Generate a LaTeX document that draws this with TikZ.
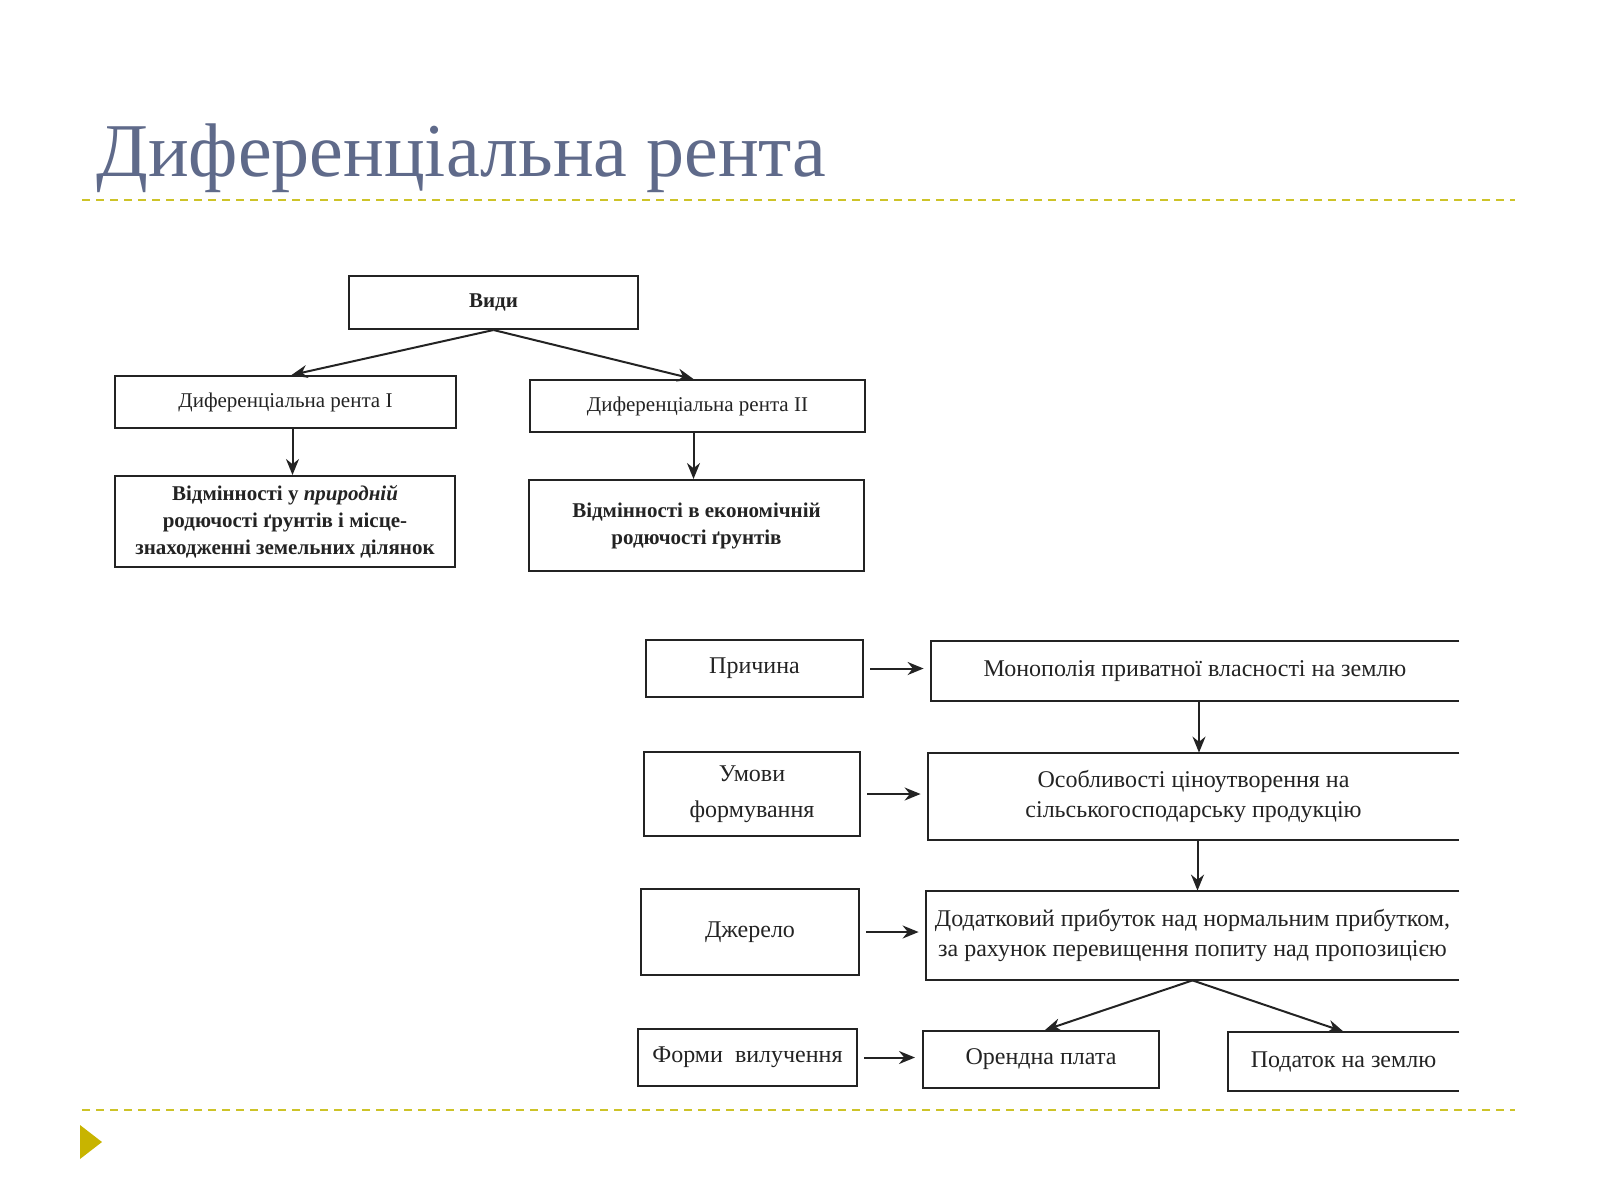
\documentclass[tikz,border=0pt]{standalone}
\usepackage{fontspec}
\setmainfont{Liberation Serif}
\usetikzlibrary{arrows.meta}
\definecolor{titlecol}{RGB}{95,106,138}
\definecolor{dashcol}{RGB}{205,195,40}
\definecolor{tricol}{RGB}{200,180,0}
\definecolor{ink}{RGB}{35,35,35}
\tikzset{
  box/.style={draw=ink, line width=1pt, inner sep=1pt, align=center, text=ink, font=\fontsize{10.5}{14}\selectfont},
  obox/.style={inner sep=1pt, align=center, text=ink, font=\fontsize{12}{16}\selectfont},
  lbox/.style={draw=ink, line width=1pt, inner sep=1pt, align=center, text=ink, font=\fontsize{12}{16}\selectfont},
  oline/.style={draw=ink, line width=1pt},
  arr/.style={draw=ink, -{Stealth[length=8pt,width=6.5pt]}, line width=1pt},
  sep/.style={dashcol, line width=1pt, dash pattern=on 4pt off 3pt}
}
\begin{document}
\begin{tikzpicture}[x=0.5pt,y=-0.5pt]
\useasboundingbox (0,0) rectangle (1600,1200);
% title
\node[anchor=base west, inner sep=0, text=titlecol, font=\fontsize{38}{46}\selectfont] (title) at (96,176) {Диференціальна рента};
\coordinate (s1a) at (82,200); \coordinate (s1b) at (1515,200);
\draw[sep] (s1a) -- (s1b);
\coordinate (s2a) at (82,1110); \coordinate (s2b) at (1515,1110);
\draw[sep] (s2a) -- (s2b);
\fill[tricol] (80,1125) -- (102,1142) -- (80,1159) -- cycle;

% top diagram
\node[box, minimum width=144.5pt, minimum height=26.5pt, font=\fontsize{10.5}{14}\bfseries] (vidy) at (493.5,302.5) {Види};
\node[box, minimum width=170.5pt, minimum height=26pt] (dr1) at (285.5,402) {Диференціальна рента I};
\node[box, minimum width=167.5pt, minimum height=26pt] (dr2) at (697.5,406) {Диференціальна рента II};
\node[box, minimum width=170pt, minimum height=45.5pt, font=\fontsize{10.5}{13.5}\selectfont\bfseries] (vid1) at (285,521.5) {Відмінності у \textit{природній}\\родючості ґрунтів і місце-\\знаходженні земельних ділянок};
\node[box, minimum width=167.5pt, minimum height=45.5pt, font=\fontsize{10.5}{13.5}\selectfont\bfseries] (vid2) at (696.5,525.5) {Відмінності в економічній\\родючості ґрунтів};
\draw[arr] (vidy.south) -- ([xshift=3pt]dr1.north);
\draw[arr] (vidy.south) -- ([xshift=-2pt]dr2.north);
\draw[arr] ([xshift=3.5pt]dr1.south) -- ([xshift=3.5pt]dr1.south |- vid1.north);
\draw[arr] ([xshift=-2pt]dr2.south) -- ([xshift=-2pt]dr2.south |- vid2.north);

% bottom diagram: left column
\node[lbox, minimum width=108.5pt, minimum height=28.5pt] (pr) at (754.5,668.5) {Причина};
\node[lbox, minimum width=108pt, minimum height=42pt, font=\fontsize{12}{18}\selectfont] (um) at (752,794) {Умови\\формування};
\node[lbox, minimum width=109pt, minimum height=43pt] (dj) at (750,932) {Джерело};
\node[lbox, minimum width=109.5pt, minimum height=28.5pt] (fv) at (747.5,1057.5) {Форми\ \ вилучення};

% right column (open on the right)
\node[obox, minimum width=264pt, minimum height=30pt] (mon) at (1195,671) {Монополія приватної власності на землю};
\node[obox, minimum width=265.5pt, minimum height=43.5pt, font=\fontsize{12}{15}\selectfont] (os) at (1193.5,796.5) {Особливості ціноутворення на\\сільськогосподарську продукцію};
\node[obox, minimum width=266.5pt, minimum height=44.5pt, font=\fontsize{12}{15}\selectfont] (dod) at (1192.5,935.5) {Додатковий прибуток над нормальним прибутком,\\за рахунок перевищення попиту над пропозицією};
\node[lbox, minimum width=118pt, minimum height=28.5pt] (or) at (1041,1059.5) {Орендна плата};
\node[obox, minimum width=115.5pt, minimum height=29.5pt] (pod) at (1343.5,1061.5) {Податок на землю};
\foreach \n in {mon,os,dod,pod}
  \draw[oline] (\n.north east) -- (\n.north west) -- (\n.south west) -- (\n.south east);

% arrows
\draw[arr, shorten <=3pt, shorten >=3.5pt] (pr.east) -- (pr.east -| mon.west);
\draw[arr, shorten <=3pt, shorten >=3.5pt] (um.east) -- (um.east -| os.west);
\draw[arr, shorten <=3pt, shorten >=3.5pt] (dj.east) -- (dj.east -| dod.west);
\draw[arr, shorten <=3pt, shorten >=3.5pt] (fv.east) -- (fv.east -| or.west);
\draw[arr] ([xshift=2pt]mon.south) -- ([xshift=2pt]mon.south |- os.north);
\draw[arr] ([xshift=2pt]os.south) -- ([xshift=2pt]os.south |- dod.north);
\draw[arr] (dod.south) -- ([xshift=2pt]or.north);
\draw[arr] (dod.south) -- (pod.north);
\end{tikzpicture}
\end{document}
